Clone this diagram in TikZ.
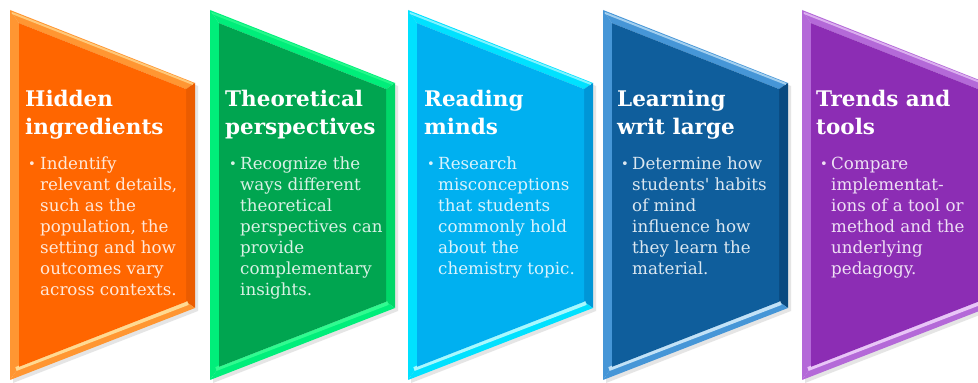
\documentclass[tikz,border=0pt]{standalone}
\usepackage{fontspec}
\setmainfont{DejaVu Serif}
\definecolor{orM}{RGB}{255,102,0}
\definecolor{orL}{RGB}{255,150,50}
\definecolor{orD}{RGB}{235,92,0}
\definecolor{orH}{RGB}{255,236,170}
\definecolor{grM}{RGB}{0,165,80}
\definecolor{grL}{RGB}{0,238,122}
\definecolor{grD}{RGB}{0,215,105}
\definecolor{grH}{RGB}{60,255,150}
\definecolor{buM}{RGB}{0,176,240}
\definecolor{buL}{RGB}{0,225,255}
\definecolor{buD}{RGB}{0,150,215}
\definecolor{buH}{RGB}{210,255,255}
\definecolor{dbM}{RGB}{15,94,156}
\definecolor{dbL}{RGB}{70,150,215}
\definecolor{dbD}{RGB}{10,74,128}
\definecolor{dbH}{RGB}{225,245,255}
\definecolor{puM}{RGB}{140,45,180}
\definecolor{puL}{RGB}{180,105,216}
\definecolor{puD}{RGB}{112,32,160}
\definecolor{puH}{RGB}{245,220,255}
% #1 x0, #2 main, #3 light, #4 dark, #5 highlight
\newcommand\chevshape[5]{%
\begin{scope}[shift={(#1,0)}]
 \fill[black!20,opacity=.5] (3,370) -- (188,297) -- (188,72) -- (3,0) -- cycle;
 \fill[#3] (0,373) -- (185,300) -- (176,293.9) -- (9,359.8) -- cycle;
 \fill[#3] (0,373) -- (9,359.8) -- (9,16.2) -- (0,3) -- cycle;
 \fill[#4] (185,300) -- (185,75) -- (176,81.2) -- (176,293.9) -- cycle;
 \fill[#3] (0,3) -- (9,16.2) -- (176,81.2) -- (185,75) -- cycle;
 \draw[#5,line width=4pt,opacity=.8] (6,14) -- (178,80);
 \draw[white,line width=1.2pt,opacity=.7] (9,17) -- (176,82);
 \draw[#5,line width=2pt,opacity=.6] (2,370) -- (183,299);
 \fill[#2] (9,359.8) -- (176,293.9) -- (176,81.2) -- (9,16.2) -- cycle;
\end{scope}}
\begin{document}
\begin{tikzpicture}[x=1pt,y=1pt,
  head/.style={anchor=north west,inner sep=0pt,align=left,text=white,
    font=\fontsize{21.5}{28}\selectfont\bfseries},
  body/.style={anchor=north west,inner sep=0pt,align=left,
    font=\fontsize{16.7}{21}\selectfont},
  dot/.style={anchor=base west,inner sep=0pt,font=\fontsize{13}{21}\selectfont}]
\useasboundingbox (0,0) rectangle (978,383);
\fill[white] (0,0) rectangle (978,383);
\chevshape{10}{orM}{orL}{orD}{orH}
\chevshape{210}{grM}{grL}{grD}{grH}
\chevshape{408}{buM}{buL}{buD}{buH}
\chevshape{603}{dbM}{dbL}{dbD}{dbH}
\chevshape{802}{puM}{puL}{puD}{puH}
% texts
\node[head] (h1) at (25,293.5) {Hidden\\ingredients};
\node[dot,text=white!85!orM] (d1) at (28,214) {•};
\node[body,text=white!85!orM] (b1) at (40,226.5) {Indentify\\relevant details,\\such as the\\population, the\\setting and how\\outcomes vary\\across contexts.};
\node[head] (h2) at (225,293.5) {Theoretical\\perspectives};
\node[dot,text=white!85!grM] (d2) at (229,214) {•};
\node[body,text=white!85!grM] (b2) at (240,226.5) {Recognize the\\ways different\\theoretical\\perspectives can\\provide\\complementary\\insights.};
\node[head] (h3) at (424,293.5) {Reading\\minds};
\node[dot,text=white!85!buM] (d3) at (427,214) {•};
\node[body,text=white!85!buM] (b3) at (438,226.5) {Research\\misconceptions\\that students\\commonly hold\\about the\\chemistry topic.};
\node[head] (h4) at (617,293.5) {Learning\\writ large};
\node[dot,text=white!85!dbM] (d4) at (621,214) {•};
\node[body,text=white!85!dbM] (b4) at (632,226.5) {Determine how\\students\textquotesingle\ habits\\of mind\\influence how\\they learn the\\material.};
\node[head] (h5) at (816,293.5) {Trends and\\tools};
\node[dot,text=white!85!puM] (d5) at (820,214) {•};
\node[body,text=white!85!puM] (b5) at (831,226.5) {Compare\\implementat-\\ions of a tool or\\method and the\\underlying\\pedagogy.};
\end{tikzpicture}
\end{document}
